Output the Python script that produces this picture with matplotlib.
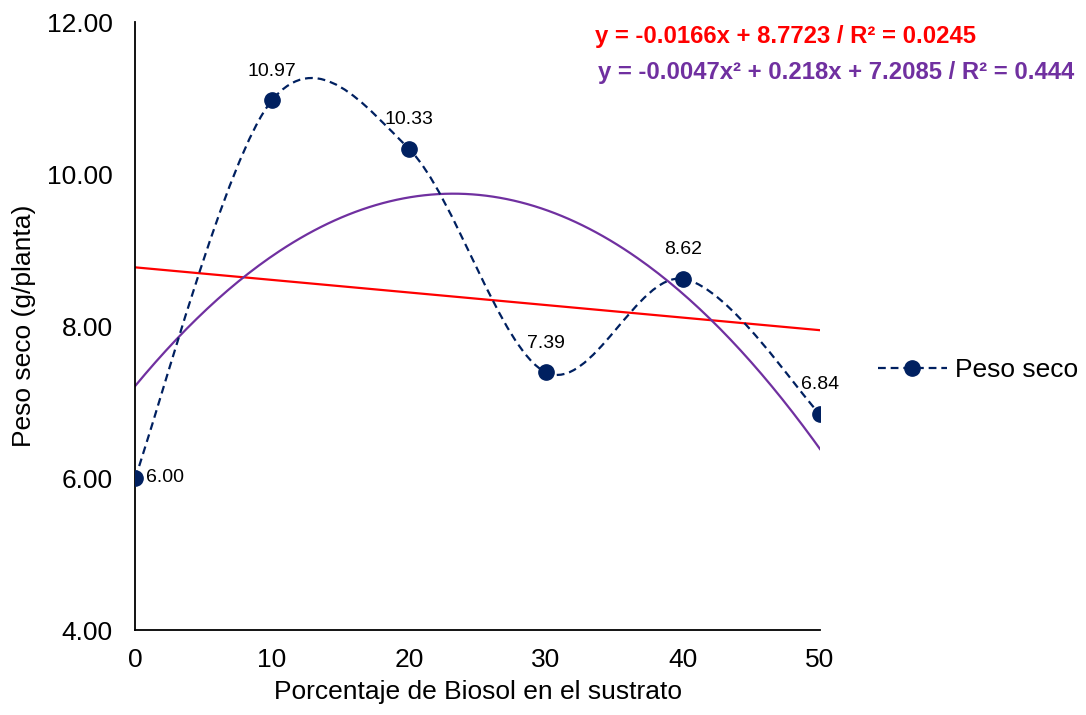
import numpy as np
import matplotlib
matplotlib.use("Agg")
import matplotlib.pyplot as plt
from matplotlib.path import Path
from matplotlib.patches import PathPatch
from matplotlib.lines import Line2D

plt.rcParams['font.family'] = ['Liberation Sans', 'DejaVu Sans']

# data
biosol = [0, 10, 20, 30, 40, 50]
peso = [6.00, 10.97, 10.33, 7.39, 8.62, 6.84]
eq_lin = "y = -0.0166x + 8.7723 / R² = 0.0245"
eq_poly = "y = -0.0047x² + 0.218x + 7.2085 / R² = 0.444"

navy = '#002060'
red = '#FF0000'
purple = '#7030A0'

fig = plt.figure(figsize=(10.86, 7.15), dpi=100)
ax = fig.add_axes([135/1086, 1 - 630/715, (820 - 135)/1086, (630 - 22)/715])

# smoothed line like excel (catmull-rom style bezier)
pts = np.column_stack([biosol, peso]).astype(float)
verts = [pts[0]]
codes = [Path.MOVETO]
n = len(pts)
for i in range(n - 1):
    p0 = pts[max(i - 1, 0)]
    p1 = pts[i]
    p2 = pts[i + 1]
    p3 = pts[min(i + 2, n - 1)]
    c1 = p1 + (p2 - p0) / 6
    c2 = p2 - (p3 - p1) / 6
    verts += [c1, c2, p2]
    codes += [Path.CURVE4] * 3
ax.add_patch(PathPatch(Path(verts, codes), fill=False, edgecolor=navy,
                       lw=1.6, linestyle=(0, (3.5, 2.2)), zorder=3))
ax.plot(biosol, peso, ls='none', marker='o', ms=11, color=navy, zorder=4)

# trendlines
xx = np.linspace(0, 50, 200)
lin = np.polyfit(biosol, peso, 1)
quad = np.polyfit(biosol, peso, 2)
ax.plot(xx, np.polyval(lin, xx), color=red, lw=1.6, zorder=2)
ax.plot(xx, np.polyval(quad, xx), color=purple, lw=1.6, zorder=2)

# data labels
for i, (xv, yv) in enumerate(zip(biosol, peso)):
    if i == 0:
        ax.annotate(f"{yv:.2f}", (xv, yv), xytext=(8, 0), textcoords='offset points',
                    ha='left', va='center', fontsize=14)
    else:
        ax.annotate(f"{yv:.2f}", (xv, yv), xytext=(0, 21), textcoords='offset points',
                    ha='center', va='center', fontsize=14)

ax.set_xlim(0, 50)
ax.set_ylim(4, 12)
ax.set_xticks(range(0, 51, 10))
ax.set_yticks(np.arange(4, 12.1, 2))
ax.set_yticklabels([f"{v:.2f}" for v in np.arange(4, 12.1, 2)])
ax.tick_params(length=0, labelsize=19)
ax.tick_params(axis='y', pad=16)
ax.tick_params(axis='x', pad=13)
for s in ['top', 'right']:
    ax.spines[s].set_visible(False)
for s in ['left', 'bottom']:
    ax.spines[s].set_linewidth(1.3)
    ax.spines[s].set_color('black')

ax.set_xlabel("Porcentaje de Biosol en el sustrato", fontsize=19, labelpad=6)
ax.set_ylabel("Peso seco (g/planta)", fontsize=19, labelpad=8)

fig.text(595/1086, 1 - 37/715, eq_lin, color=red, fontsize=17.2, fontweight='bold', va='center')
fig.text(598/1086, 1 - 73/715, eq_poly, color=purple, fontsize=17.2, fontweight='bold', va='center')

handle = Line2D([], [], color=navy, lw=1.6, ls=(0, (3.5, 2.2)), marker='o', ms=11)
fig.legend([handle], ["Peso seco"], loc='center left', bbox_to_anchor=(878/1086, 1 - 370/715),
           frameon=False, fontsize=19, handlelength=2.6, handletextpad=0.3,
           borderpad=0, borderaxespad=0)

fig.savefig("out.png", dpi=100)
